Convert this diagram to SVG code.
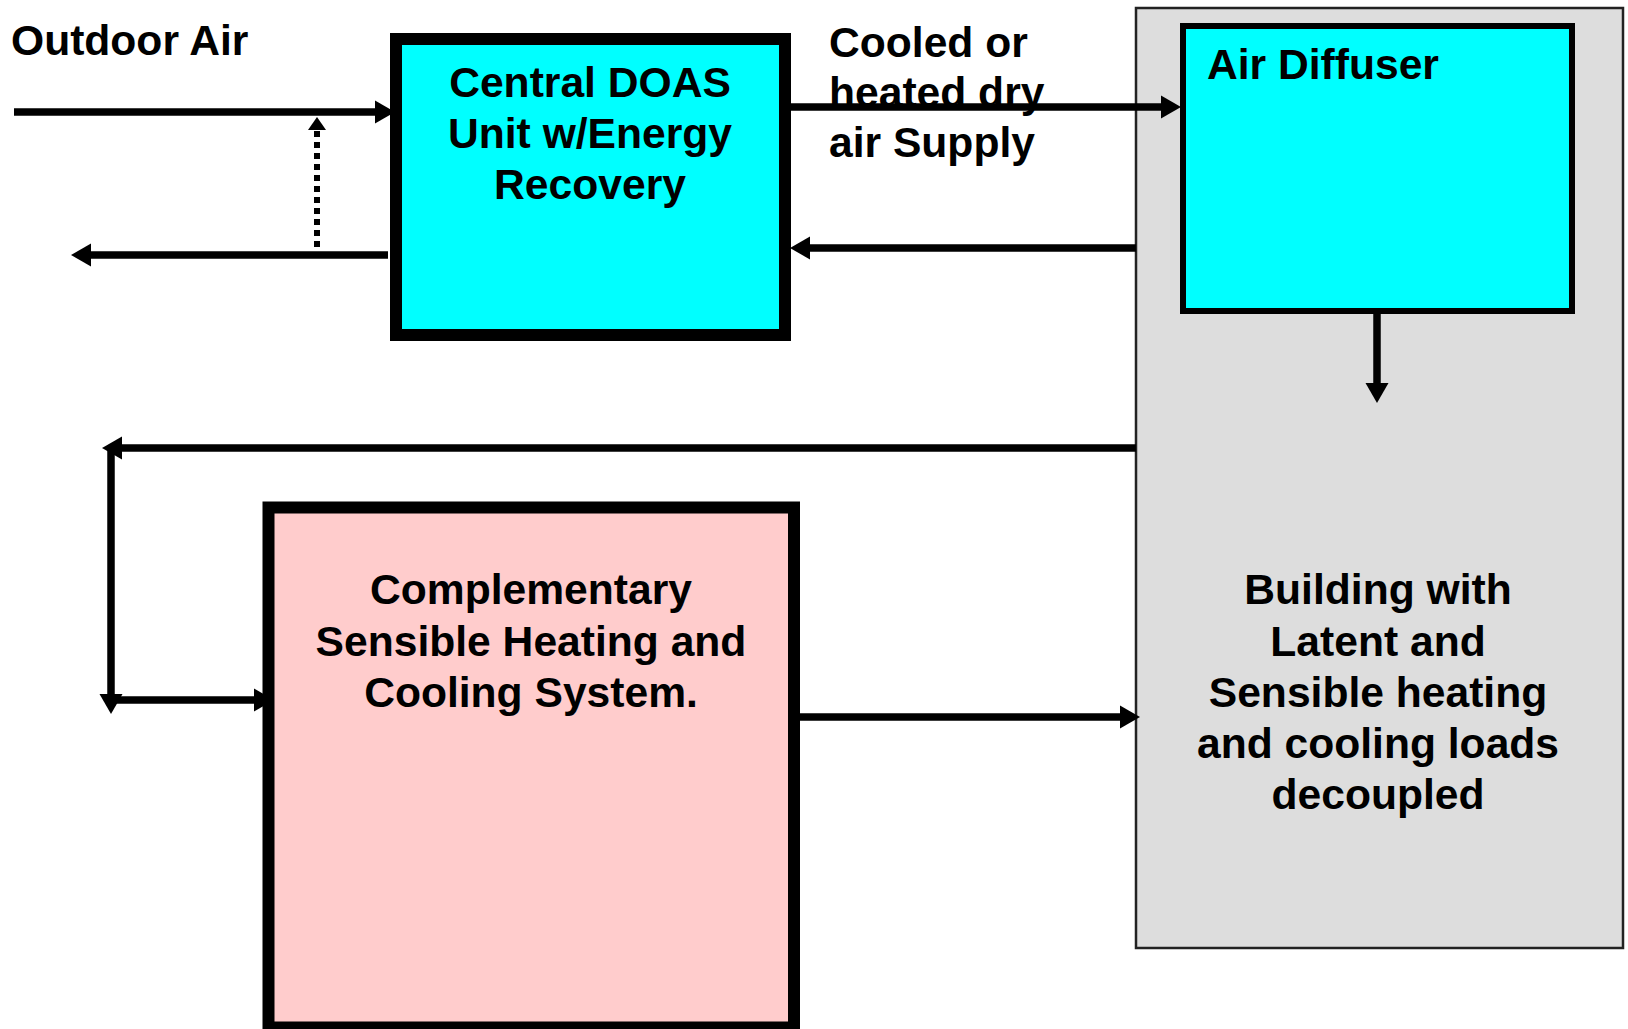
<svg xmlns="http://www.w3.org/2000/svg" width="1628" height="1029" viewBox="0 0 1628 1029">
<style>
text{font-family:"Liberation Sans",Arial,sans-serif;font-weight:bold;font-size:42.6px;fill:#000}
.c{text-anchor:middle}
.ln{fill:none;stroke:#000;stroke-width:7.5}
.box{stroke:#000;stroke-width:12}
</style>
<defs>
<marker id="ah" markerUnits="userSpaceOnUse" markerWidth="22" markerHeight="24" refX="0" refY="11.5" orient="auto" overflow="visible"><path d="M0,0 L20,11.5 L0,23 Z" fill="#000"/></marker>
<marker id="ahs" markerUnits="userSpaceOnUse" markerWidth="14" markerHeight="20" refX="0" refY="9" orient="auto" overflow="visible"><path d="M0,0 L13,9 L0,18 Z" fill="#000"/></marker>
</defs>
<rect width="1628" height="1029" fill="#fff"/>
<g id="building">
<rect x="1136" y="8" width="487" height="940" fill="#dddddd" stroke="#222" stroke-width="2.5"/>
<text class="c" x="1378" y="604">Building with</text>
<text class="c" x="1378" y="656">Latent and</text>
<text class="c" x="1378" y="707">Sensible heating</text>
<text class="c" x="1378" y="758">and cooling loads</text>
<text class="c" x="1378" y="809">decoupled</text>
</g>
<g id="doas">
<rect class="box" x="396" y="39" width="389" height="296" fill="#00ffff"/>
<text class="c" x="590" y="97">Central DOAS</text>
<text class="c" x="590" y="148">Unit w/Energy</text>
<text class="c" x="590" y="199">Recovery</text>
</g>
<g id="diffuser">
<rect x="1183" y="26" width="389" height="285" fill="#00ffff" stroke="#000" stroke-width="6"/>
<text x="1207" y="79">Air Diffuser</text>
</g>
<g id="complementary">
<rect class="box" x="268.5" y="507.5" width="525.5" height="520" fill="#ffcccc"/>
<text class="c" x="531" y="604">Complementary</text>
<text class="c" x="531" y="656">Sensible Heating and</text>
<text class="c" x="531" y="707">Cooling System.</text>
</g>
<g id="labels">
<text x="11" y="55">Outdoor Air</text>
<text x="829" y="57">Cooled or</text>
<text x="829" y="107">heated dry</text>
<text x="829" y="157">air Supply</text>
</g>
<g id="connectors">
<path class="ln" d="M14,112 H375" marker-end="url(#ah)"/>
<path class="ln" d="M388,255 H91" marker-end="url(#ah)"/>
<path fill="none" stroke="#000" stroke-width="6" stroke-dasharray="6 5" d="M317,247 V130" marker-end="url(#ahs)"/>
<path class="ln" d="M790,107 H1161" marker-end="url(#ah)"/>
<path class="ln" d="M1136,248 H810" marker-end="url(#ah)"/>
<path class="ln" d="M1377,314 V383" marker-end="url(#ah)"/>
<path class="ln" d="M1136,448 H122" marker-end="url(#ah)"/>
<path class="ln" d="M111,448 V694" marker-end="url(#ah)"/>
<path class="ln" d="M111,700 H254" marker-end="url(#ah)"/>
<path class="ln" d="M800,717 H1120" marker-end="url(#ah)"/>
</g>
</svg>
